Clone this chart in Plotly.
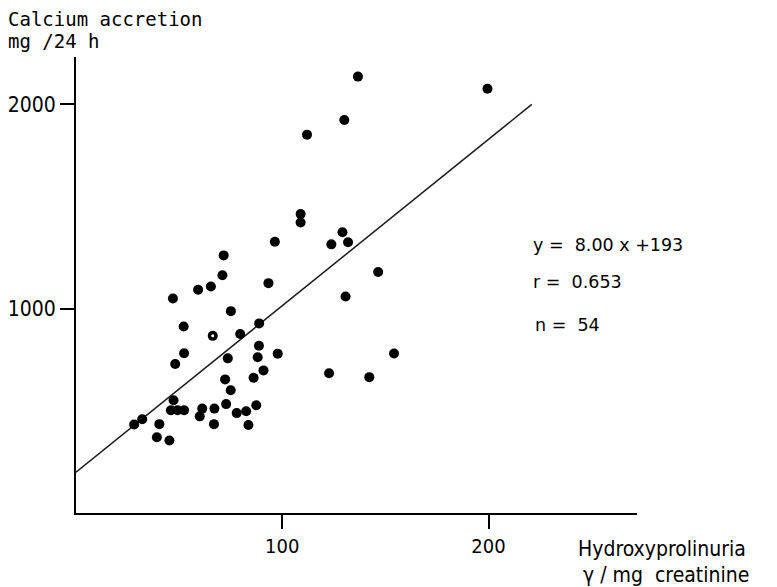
import plotly.graph_objects as go

# Hydroxyprolinuria (gamma/mg creatinine) vs calcium accretion (mg/24 h)
hyp = [96.4, 71.6, 71.0, 93.3, 59.2, 65.4, 47.0, 75.1, 52.2, 79.6,
       88.8, 52.4, 48.1, 88.7, 88.1, 97.8, 73.6, 72.3, 86.1, 90.9,
       75.0, 47.3, 46.0, 49.2, 52.4, 61.2, 60.0, 67.1, 72.8, 77.9,
       82.5, 87.4, 66.9, 83.6, 40.4, 39.2, 45.3, 32.1, 28.2, 136.7,
       199.5, 130.1, 112.0, 108.9, 108.9, 129.2, 123.8, 131.9, 146.5, 130.7,
       154.2, 122.7, 142.2]
ca = [1328, 1261, 1164, 1125, 1093, 1109, 1050, 988, 913, 876,
      928, 782, 729, 819, 762, 780, 757, 654, 662, 698,
      601, 552, 503, 503, 503, 511, 473, 511, 533, 489,
      498, 527, 435, 431, 435, 371, 355, 459, 433, 2136,
      2077, 1924, 1852, 1463, 1422, 1374, 1315, 1325, 1180, 1060,
      781, 684, 665]
# the one point drawn with an open centre
hyp_open = [66.3]
ca_open = [867]

# regression line as drawn (y = 8.00 x + 193)
fit_x = [0, 221]
fit_y = [200, 2000]

x_ticks = [100, 200]
y_ticks = [1000, 2000]

narrow = "Liberation Sans Narrow, DejaVu Sans Condensed, Roboto Condensed, DejaVu Sans, sans-serif"

fig = go.Figure()
fig.add_trace(go.Scatter(x=fit_x, y=fit_y, mode="lines",
                         line=dict(color="#1a1a1a", width=1.5), hoverinfo="skip"))
fig.add_trace(go.Scatter(x=hyp + hyp_open, y=ca + ca_open, mode="markers",
                         marker=dict(color="black", size=10, line=dict(width=0))))
fig.add_trace(go.Scatter(x=hyp_open, y=ca_open, mode="markers",
                         marker=dict(color="white", size=3, line=dict(width=0))))

axis_common = dict(showline=True, linecolor="black", linewidth=2,
                   ticks="outside", ticklen=14, tickwidth=1.5, tickcolor="black",
                   showgrid=False, zeroline=False, automargin=False)

fig.update_layout(
    width=777, height=587,
    margin=dict(l=76, r=140, t=57, b=74),
    paper_bgcolor="white", plot_bgcolor="white",
    showlegend=False,
    xaxis=dict(range=[0, 272], tickvals=x_ticks, ticktext=[str(v) for v in x_ticks],
               tickfont=dict(family=narrow, size=20, color="black"), **axis_common),
    yaxis=dict(range=[0, 2232], tickvals=y_ticks, ticktext=[str(v) for v in y_ticks],
               tickfont=dict(family=narrow, size=21, color="black"), **axis_common),
)

def ann(text, px, py, font):
    fig.add_annotation(text=text, xref="paper", yref="paper",
                       x=(px - 76) / 561, y=(513 - py) / 456,
                       xanchor="left", yanchor="middle", showarrow=False,
                       font=font)

mono = dict(family="DejaVu Sans Mono, Liberation Mono, monospace", size=19, color="black")
stat = dict(family="DejaVu Sans, sans-serif", size=17.5, color="black")
lab = dict(family=narrow, size=21, color="black")

ann("Calcium accretion", 6, 19, mono)
ann("mg /24 h", 6, 41, mono)
ann("y =  8.00 x +193", 531, 245, stat)
ann("r =  0.653", 531, 282, stat)
ann("n =  54", 533, 325, stat)
ann("Hydroxyprolinuria", 576, 549, lab)
ann("γ / mg  creatinine", 581, 575, lab)

fig.write_html("out.html")
